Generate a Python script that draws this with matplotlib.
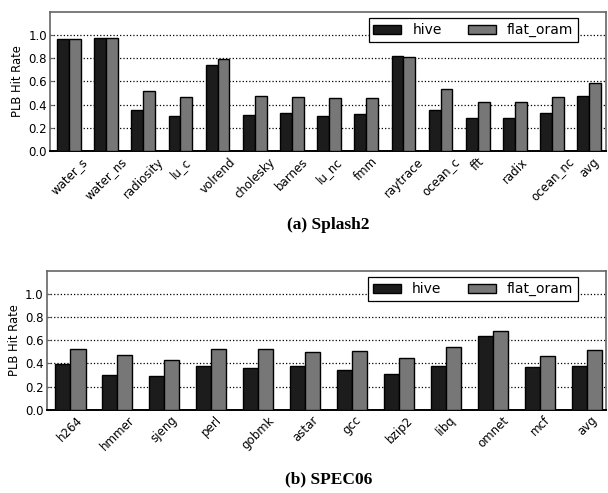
import matplotlib

matplotlib.use("Agg")
import matplotlib.pyplot as plt
import numpy as np

SPLASH2_APPS = [
    "water_s", "water_ns", "radiosity", "lu_c", "volrend", "cholesky", "barnes",
    "lu_nc", "fmm", "raytrace", "ocean_c", "fft", "radix", "ocean_nc", "avg",
]
SPLASH2_HIVE = [0.964, 0.973, 0.350, 0.300, 0.745, 0.309, 0.329,
                0.306, 0.323, 0.822, 0.355, 0.288, 0.288, 0.329, 0.479]
SPLASH2_FLAT = [0.965, 0.973, 0.517, 0.467, 0.794, 0.476, 0.462,
                0.456, 0.456, 0.814, 0.531, 0.421, 0.427, 0.462, 0.589]

SPEC06_APPS = [
    "h264", "hmmer", "sjeng", "perl", "gobmk", "astar",
    "gcc", "bzip2", "libq", "omnet", "mcf", "avg",
]
SPEC06_HIVE = [0.392, 0.303, 0.288, 0.378, 0.358, 0.378,
               0.340, 0.311, 0.380, 0.640, 0.366, 0.375]
SPEC06_FLAT = [0.522, 0.470, 0.432, 0.525, 0.525, 0.496,
               0.505, 0.449, 0.545, 0.683, 0.467, 0.513]

HIVE_COLOR = "#1c1c1c"
FLAT_COLOR = "#777777"
SPINE_COLOR = "#666666"
BAR_WIDTH = 0.32


def draw_panel(ax, apps, hive, flat, right_pad):
    ind = np.arange(len(apps))
    ax.bar(ind - BAR_WIDTH / 2, hive, BAR_WIDTH, color=HIVE_COLOR,
           edgecolor="black", linewidth=1.0, label="hive", zorder=3)
    ax.bar(ind + BAR_WIDTH / 2, flat, BAR_WIDTH, color=FLAT_COLOR,
           edgecolor="black", linewidth=1.0, label="flat_oram", zorder=3)

    ax.set_xlim(-0.51, len(apps) - 1 + right_pad)
    ax.set_ylim(0, 1.2)
    ax.set_yticks([0.0, 0.2, 0.4, 0.6, 0.8, 1.0])
    ax.set_yticklabels(["0.0", "0.2", "0.4", "0.6", "0.8", "1.0"], fontsize=8.5)
    ax.set_xticks(ind)
    ax.set_xticklabels(apps, rotation=45, fontsize=8.5)
    ax.tick_params(axis="x", length=0, pad=3)
    ax.tick_params(axis="y", direction="in", length=3, pad=2,
                   color=SPINE_COLOR)
    ax.set_ylabel("PLB Hit Rate", fontsize=8.3, labelpad=3)

    ax.yaxis.grid(True, linestyle=":", color="black", linewidth=0.9)
    ax.set_axisbelow(True)
    for side in ("top", "left", "right"):
        ax.spines[side].set_color(SPINE_COLOR)
        ax.spines[side].set_linewidth(1.2)
    ax.spines["bottom"].set_color("black")
    ax.spines["bottom"].set_linewidth(1.4)

    leg = ax.legend(loc="upper right", bbox_to_anchor=(0.95, 0.955),
                    ncol=2, fontsize=10, fancybox=False, framealpha=1,
                    borderaxespad=0, handlelength=2.0, handleheight=0.65,
                    columnspacing=1.9, borderpad=0.35)
    leg.get_frame().set_edgecolor("black")
    leg.get_frame().set_linewidth(0.9)


fig = plt.figure(figsize=(6.08, 4.93), dpi=100)
fig.patch.set_facecolor("white")

ax_top = fig.add_axes([0.0822, 0.6937, 0.9145, 0.2820])
draw_panel(ax_top, SPLASH2_APPS, SPLASH2_HIVE, SPLASH2_FLAT, 0.45)

ax_bot = fig.add_axes([0.0765, 0.1690, 0.9202, 0.2813])
draw_panel(ax_bot, SPEC06_APPS, SPEC06_HIVE, SPEC06_FLAT, 0.40)

caption_font = {"family": "Liberation Serif", "weight": "bold", "size": 12.5}
fig.text(0.54, 1 - 225 / 493, "(a) Splash2", ha="center", va="center",
         fontdict=caption_font)
fig.text(0.54, 1 - 479 / 493, "(b) SPEC06", ha="center", va="center",
         fontdict=caption_font)

fig.savefig("out.png", dpi=100)
plt.close(fig)
